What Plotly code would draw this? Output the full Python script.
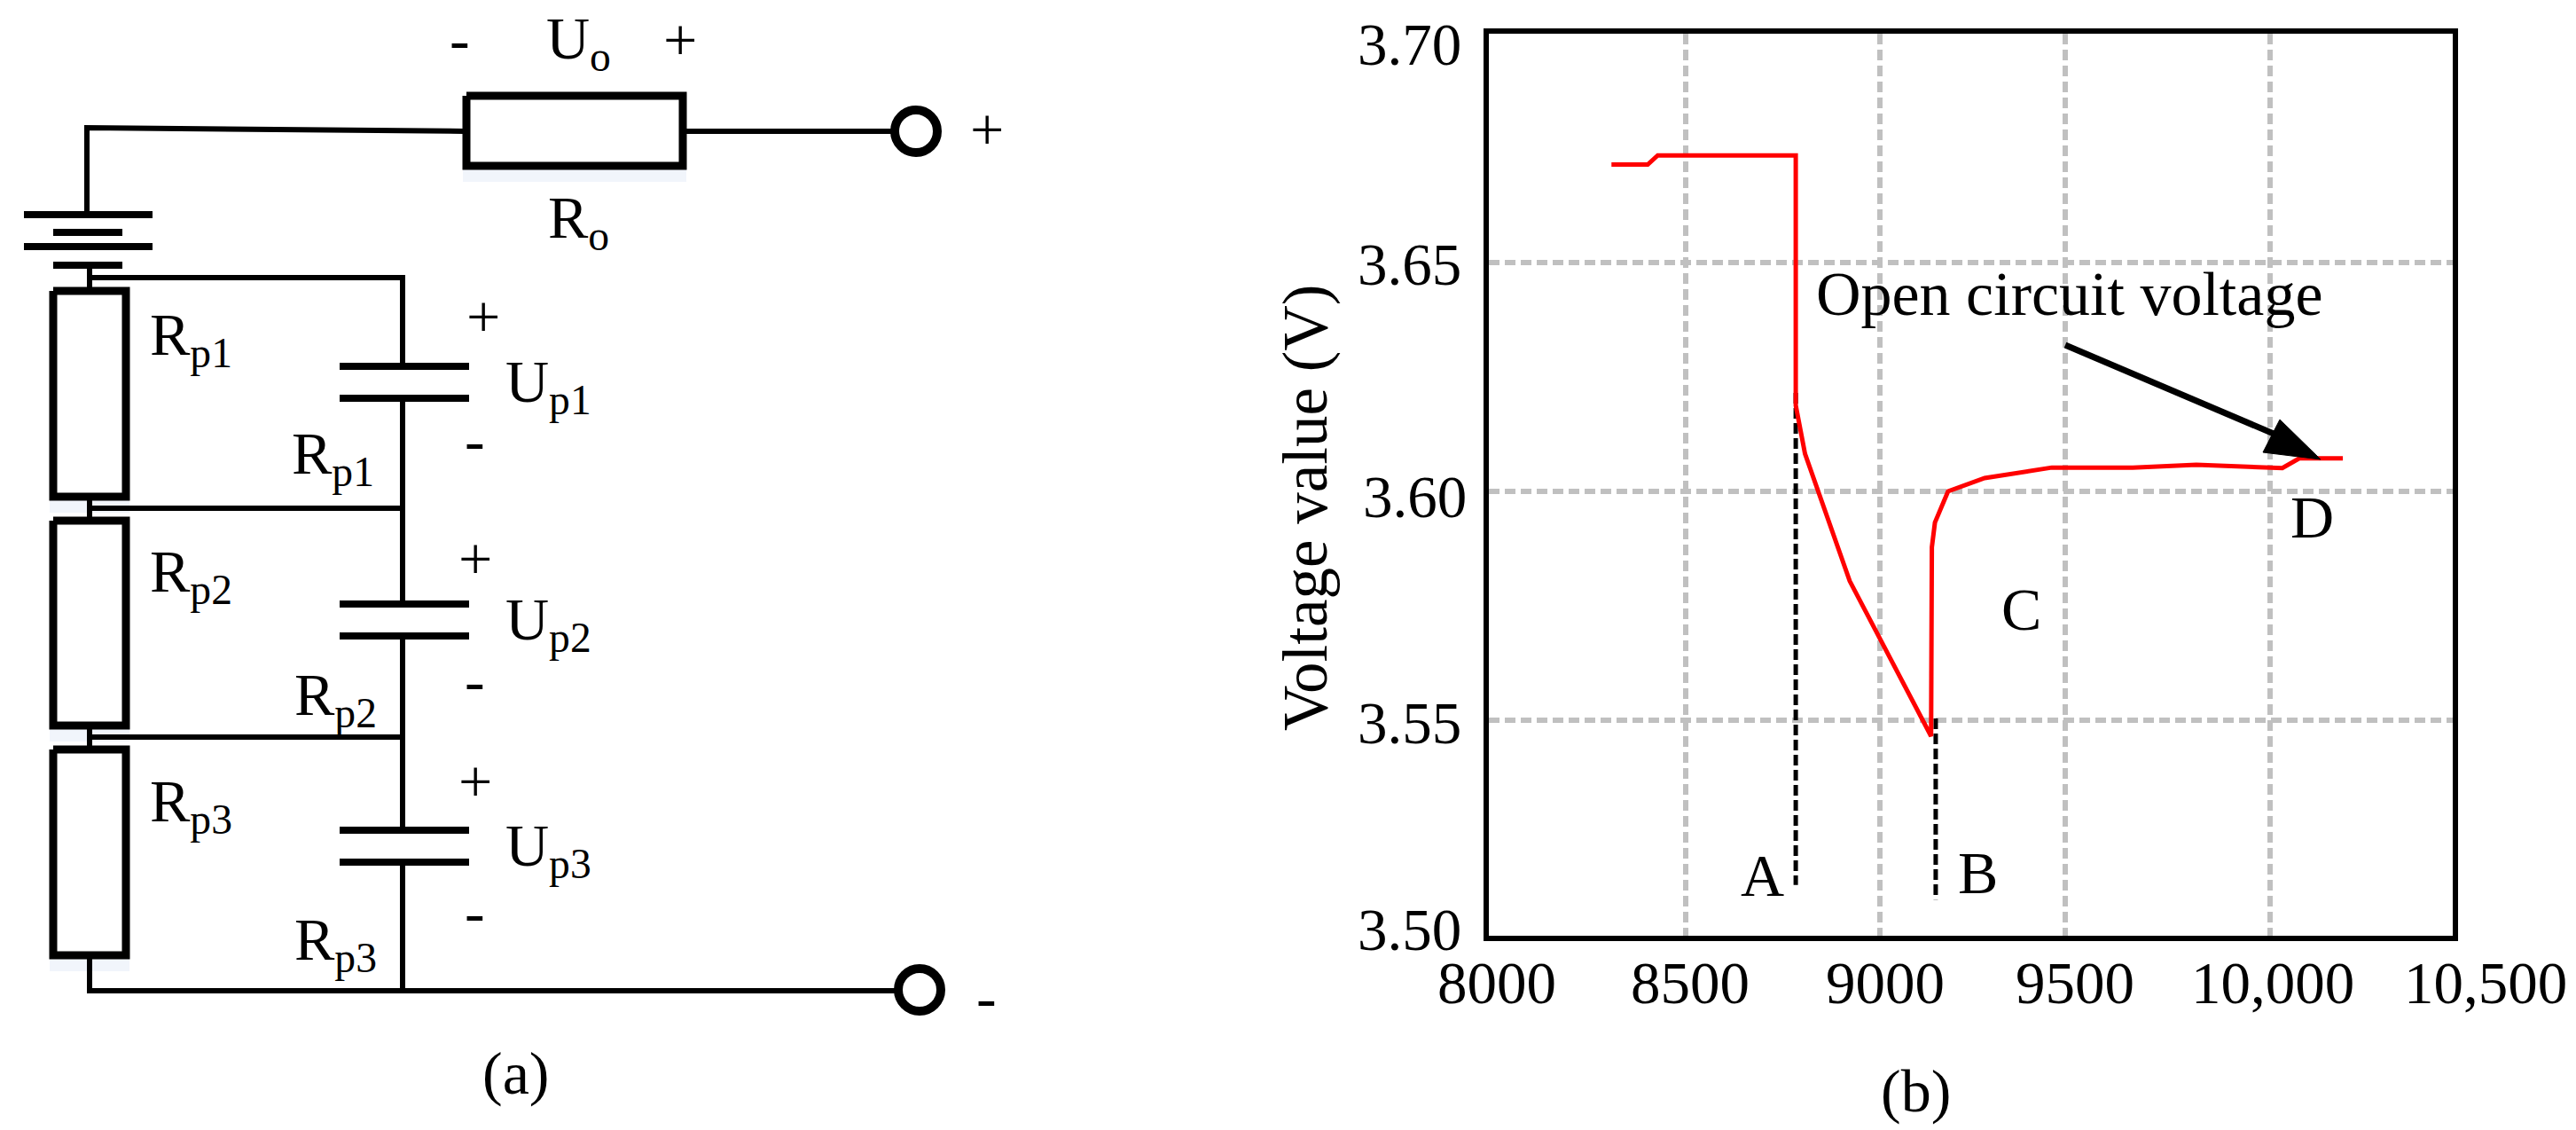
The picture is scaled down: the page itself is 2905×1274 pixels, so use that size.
import plotly.graph_objects as go

W, H = 2905, 1274
FONT = "Liberation Serif"

# ---- chart (b) values ----
voltage_t = [8318, 8412, 8438, 8796, 8796, 8813, 8820, 8936, 9147, 9149, 9157, 9191, 9286, 9460, 9670, 9835, 10058, 10102, 10215]
voltage_v = [3.6714, 3.6714, 3.6734, 3.6734, 3.6188, 3.6105, 3.6082, 3.5804, 3.5465, 3.5878, 3.5932, 3.6000, 3.6029, 3.6052, 3.6052, 3.6058, 3.6051, 3.6072, 3.6072]
marker_a_t = [8796, 8796]
marker_a_v = [3.6215, 3.5140]
marker_b_t = [9159, 9159]
marker_b_v = [3.5504, 3.5108]
grid_t = [8511, 9014, 9495, 10026]
grid_v = [3.55, 3.60, 3.65]

x_tick_text = ["8000", "8500", "9000", "9500", "10,000", "10,500"]
x_tick_px = [1688, 1906, 2126, 2340, 2563, 2803]
y_tick_text = ["3.70", "3.65", "3.60", "3.55", "3.50"]
y_tick_px = [1589, 1589, 1595, 1589, 1589]
y_tick_base = [74, 322, 584, 839, 1072]

# ---- schematic (a), page pixels ----
wires_x = [98, 98, 524, None, 774, 1006, None, 101, 101, None, 101, 454, 454, None, 454, 454, None, 101, 454, None,
           454, 454, None, 101, 454, None, 454, 454, None, 101, 101, 1010, None, 101, 101, None, 101, 101, None, 454, 454]
wires_y = [239, 144, 148, None, 148, 148, None, 299, 324, None, 313, 313, 413, None, 449, 681, None, 573, 573, None,
           717, 936, None, 831, 831, None, 972, 1117, None, 1081, 1117, 1117, None, 564, 583, None, 822, 841, None, 1117, 1117]
plates_x = [27, 172, None, 60, 138, None, 27, 172, None, 60, 138, None, 383, 529, None, 383, 529, None, 383, 529, None, 383, 529, None, 383, 529, None, 383, 529]
plates_y = [242, 242, None, 262, 262, None, 278, 278, None, 299, 299, None, 413, 413, None, 449, 449, None, 681, 681, None, 717, 717, None, 936, 936, None, 972, 972]
# left, right, top, bottom
resistors = [(526, 770, 108, 187), (60, 142, 328, 560), (60, 142, 587, 818), (60, 142, 845, 1077)]
terminals_x = [1033, 1037]
terminals_y = [148, 1116]

arrow_x = [2329, 2590]
arrow_y = [389, 500]
arrow_head_x = [2571, 2617, 2552, 2571]
arrow_head_y = [473, 518, 510, 473]

# text, left x, baseline
labels_left = [
    ("U<sub>o</sub>", 614, 69), ("R<sub>o</sub>", 616, 271),
    ("R<sub>p1</sub>", 167, 403), ("U<sub>p1</sub>", 568, 456), ("R<sub>p1</sub>", 327, 537),
    ("R<sub>p2</sub>", 167, 670), ("U<sub>p2</sub>", 568, 724), ("R<sub>p2</sub>", 330, 809),
    ("R<sub>p3</sub>", 167, 929), ("U<sub>p3</sub>", 568, 979), ("R<sub>p3</sub>", 330, 1085),
]
# text, centre x, centre y
labels_mid = [
    ("-", 518, 44), ("+", 767, 45), ("+", 1113, 146), ("-", 1112, 1124),
    ("+", 545, 357), ("-", 535, 496), ("+", 536, 630), ("-", 535, 767), ("+", 536, 881), ("-", 535, 1028),
    ("(a)", 581, 1210), ("(b)", 2160, 1230),
    ("A", 1987, 987), ("B", 2230, 984), ("C", 2279, 687), ("D", 2607, 583),
]

fig = go.Figure()

# chart traces
fig.add_trace(go.Scatter(x=marker_a_t, y=marker_a_v, mode="lines", line=dict(color="black", width=5, dash="12px,5px")))
fig.add_trace(go.Scatter(x=marker_b_t, y=marker_b_v, mode="lines", line=dict(color="black", width=5, dash="12px,5px")))
fig.add_trace(go.Scatter(x=voltage_t, y=voltage_v, mode="lines", line=dict(color="#ff0000", width=5)))

# schematic traces
for left, right, top, bottom in resistors:
    # pale shadow under each resistor
    fig.add_trace(go.Scatter(x=[left - 4, right + 4, right + 4, left - 4, left - 4],
                             y=[top, top, bottom + 18, bottom + 18, top],
                             mode="lines", fill="toself", fillcolor="#f1f5fb", line=dict(width=0),
                             xaxis="x2", yaxis="y2"))
fig.add_trace(go.Scatter(x=wires_x, y=wires_y, mode="lines", line=dict(color="black", width=6), xaxis="x2", yaxis="y2"))
fig.add_trace(go.Scatter(x=plates_x, y=plates_y, mode="lines", line=dict(color="black", width=8), xaxis="x2", yaxis="y2"))
for left, right, top, bottom in resistors:
    fig.add_trace(go.Scatter(x=[left, right, right, left, left], y=[top, top, bottom, bottom, top],
                             mode="lines", fill="toself", fillcolor="white", line=dict(color="black", width=9),
                             xaxis="x2", yaxis="y2"))
fig.add_trace(go.Scatter(x=terminals_x, y=terminals_y, mode="markers",
                         marker=dict(size=48, color="white", line=dict(color="black", width=10)),
                         xaxis="x2", yaxis="y2"))
fig.add_trace(go.Scatter(x=arrow_x, y=arrow_y, mode="lines", line=dict(color="black", width=7), xaxis="x2", yaxis="y2"))
fig.add_trace(go.Scatter(x=arrow_head_x, y=arrow_head_y, mode="lines", fill="toself", fillcolor="black",
                         line=dict(color="black", width=1), xaxis="x2", yaxis="y2"))

notes = []
for text, x, base in labels_left:
    notes.append(dict(text=text, x=x, y=base - 22, xanchor="left", yanchor="middle", size=68))
for text, x, y in labels_mid:
    notes.append(dict(text=text, x=x, y=y, xanchor="center", yanchor="middle", size=68))
for text, x in zip(x_tick_text, x_tick_px):
    notes.append(dict(text=text, x=x, y=1108, xanchor="center", yanchor="middle", size=67))
for text, x, base in zip(y_tick_text, y_tick_px, y_tick_base):
    notes.append(dict(text=text, x=x, y=base - 24, xanchor="center", yanchor="middle", size=67))
notes.append(dict(text="Open circuit voltage", x=2046, y=331, xanchor="left", yanchor="middle", size=70))
notes.append(dict(text="Voltage value (V)", x=1472, y=573, textangle=-90, xanchor="center", yanchor="middle", size=71))
for note in notes:
    size = note.pop("size")
    note.update(xref="x2", yref="y2", showarrow=False, font=dict(family=FONT, size=size, color="black"))

fig.update_layout(
    width=W,
    height=H,
    margin=dict(l=0, r=0, t=0, b=0),
    paper_bgcolor="white",
    plot_bgcolor="rgba(0,0,0,0)",
    showlegend=False,
    annotations=notes,
    xaxis=dict(domain=[1679 / W, 2766 / W], range=[8000, 10500], tickmode="array", tickvals=grid_t,
               showticklabels=False, ticks="", showgrid=True, gridcolor="#c0c0c0", gridwidth=6,
               griddash="12px,6px", zeroline=False, showline=True, mirror=True, linecolor="black", linewidth=6),
    yaxis=dict(domain=[1 - 1055 / H, 1 - 38 / H], range=[3.5029, 3.70], tickmode="array", tickvals=grid_v,
               showticklabels=False, ticks="", showgrid=True, gridcolor="#c0c0c0", gridwidth=6,
               griddash="12px,6px", zeroline=False, showline=True, mirror=True, linecolor="black", linewidth=6),
    xaxis2=dict(domain=[0, 1], range=[0, W], visible=False, anchor="y2"),
    yaxis2=dict(domain=[0, 1], range=[H, 0], visible=False, anchor="x2"),
)

fig.write_html("out.html", config={"displayModeBar": False}, post_script="document.body.style.margin='0';")
